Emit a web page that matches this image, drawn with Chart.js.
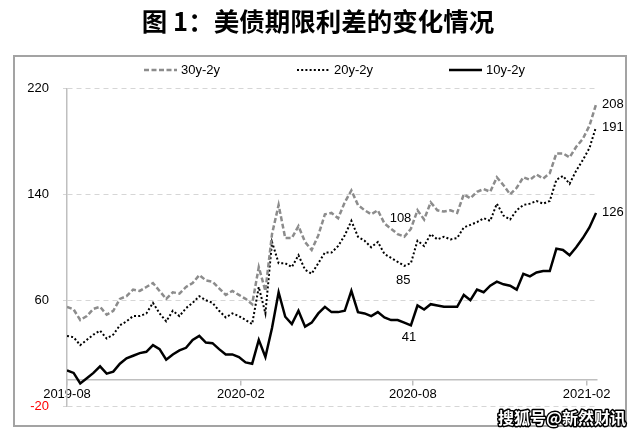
<!DOCTYPE html>
<html><head><meta charset="utf-8">
<script src="https://cdn.jsdelivr.net/npm/chart.js@4.4.0/dist/chart.umd.min.js"></script>
<style>html,body{margin:0;padding:0;background:#fff;}canvas{display:block;}</style>
</head><body>
<canvas id="c" width="640" height="436"></canvas>
<script>
// ---- data (weekly samples) ----
const dates = [
 '2019-08-01','2019-08-08','2019-08-15','2019-08-22','2019-08-29',
 '2019-09-05','2019-09-12','2019-09-19','2019-09-26',
 '2019-10-03','2019-10-10','2019-10-17','2019-10-24','2019-10-31',
 '2019-11-07','2019-11-14','2019-11-21','2019-11-28',
 '2019-12-05','2019-12-12','2019-12-19','2019-12-26',
 '2020-01-02','2020-01-09','2020-01-16','2020-01-23','2020-01-30',
 '2020-02-06','2020-02-13','2020-02-20','2020-02-27',
 '2020-03-05','2020-03-12','2020-03-19','2020-03-26',
 '2020-04-02','2020-04-09','2020-04-16','2020-04-23','2020-04-30',
 '2020-05-07','2020-05-14','2020-05-21','2020-05-28',
 '2020-06-04','2020-06-11','2020-06-18','2020-06-25',
 '2020-07-02','2020-07-09','2020-07-16','2020-07-23','2020-07-30',
 '2020-08-06','2020-08-13','2020-08-20','2020-08-27',
 '2020-09-03','2020-09-10','2020-09-17','2020-09-24',
 '2020-10-01','2020-10-08','2020-10-15','2020-10-22','2020-10-29',
 '2020-11-05','2020-11-12','2020-11-19','2020-11-26',
 '2020-12-03','2020-12-10','2020-12-17','2020-12-24','2020-12-31',
 '2021-01-07','2021-01-14','2021-01-21','2021-01-28',
 '2021-02-04','2021-02-11'
];
const spread30y2y = [55,53,45,48,53.5,55,49,52,61,63,68,67,70,73,67,61,66,65,70,73,79,75,74,69,64,67,64,61,57,85,67,110,132,107,107,116,104,98,109,125,126,122,134,143,132,128,125,128,118,114,110,108,114,128,121,134,128,127,128,126,140,137,142,144,142,153,147,140,145,153,151,155,152,156,171,171,168,176,182,192,208];
const spread20y2y = [33,32,26,30,34,37,31,34,41,44,48,48,50,58,50,44,52,48,54,58,63,60,58,52,47,50,48,45,42,70,50,104,88,88,85,94,83,80,88,96,96,101,109,120,108,105,100,104,95,92,89,86,88,105,101,110,106,108,106,107,115,117,119,122,120,133,124,121,128,132,133,135,133,135,151,154,148,158,166,175,191];
const spread10y2y = [7,5,-3,1,5,10,4.5,6,12,16,18,20,21,26,23,15,19,22,24,30,33,28,27.5,23,19,19,17,13,12,30,17,39,66,47.5,42,52,40,43,50,55,51,51,52,67,51,50,48,51,47,45,45,43,41,56,53,57,56,55,55,55,64,60,68,66,71,74,72,71,68,80,78,81,82,82,99,98,94,100,107,115,126];
const seriesNames = ['30y-2y','20y-2y','10y-2y'];
const xTickDates = ['2019-08-01','2020-02-01','2020-08-01','2021-02-01'];
const xTickLabels = ['2019-08','2020-02','2020-08','2021-02'];
const yTickValues = [-20,60,140,220];
const noteDates = ['2021-02-11','2021-02-11','2021-02-11','2020-07-19','2020-07-22','2020-07-28'];
const noteValues = [208,191,126,108,85,41];
const noteTexts = ['208','191','126','108','85','41'];
const titleText = '图 1：美债期限利差的变化情况';
const watermarkText = '搜狐号@新然财讯';

// ---- helpers ----
const T0 = Date.parse('2019-08-01');
const dayOf = s => Math.round((Date.parse(s) - T0) / 864e5);
const toPts = vals => dates.map((d, i) => ({x: dayOf(d), y: vals[i]}));
const latin = '"Liberation Sans", Arial, sans-serif';

const frame = {
  id: 'frame',
  afterLayout(chart) {
    // centre the title on the whole picture, not only on the padded layout box
    if (chart.titleBlock) { chart.titleBlock.left = 0; chart.titleBlock.right = 636; chart.titleBlock.width = 636; }
  },
  beforeDraw(chart) {
    const c = chart.ctx;
    c.save();
    c.fillStyle = '#fff';
    c.fillRect(0, 0, chart.width, chart.height);
    c.strokeStyle = '#a3a3a3';
    c.lineWidth = 2;
    c.strokeRect(14, 56, 612, 370);
    c.restore();
  }
};

const legendLines = {
  id: 'legendLines',
  afterDraw(chart) {
    const c = chart.ctx;
    const xs = [144, 297, 449], y = 70;
    chart.data.datasets.forEach((ds, i) => {
      c.save();
      c.strokeStyle = ds.borderColor;
      c.lineWidth = ds.borderWidth;
      c.setLineDash(ds.borderDash || []);
      c.beginPath();
      c.moveTo(xs[i], y);
      c.lineTo(xs[i] + 33, y);
      c.stroke();
      c.setLineDash([]);
      c.fillStyle = '#000';
      c.font = '13px ' + latin;
      c.textBaseline = 'middle';
      c.textAlign = 'left';
      c.fillText(ds.label, xs[i] + 37, y);
      c.restore();
    });
  }
};

const notes = {
  id: 'notes',
  afterDraw(chart) {
    const c = chart.ctx, xs = chart.scales.x, ys = chart.scales.y;
    const place = [[6,0,'left'],[6,0,'left'],[6,0,'left'],[0,-18,'center'],[0,13,'center'],[0,12,'center']];
    c.save();
    c.fillStyle = '#000';
    c.font = '13px ' + latin;
    c.textBaseline = 'middle';
    noteTexts.forEach((t, i) => {
      const px = xs.getPixelForValue(dayOf(noteDates[i]));
      const py = ys.getPixelForValue(noteValues[i]);
      c.textAlign = place[i][2];
      c.fillText(t, px + place[i][0], py + place[i][1]);
    });
    // watermark
    c.font = 'bold 16px "Noto Sans CJK SC", sans-serif';
    c.textAlign = 'right';
    c.textBaseline = 'middle';
    c.lineWidth = 3;
    c.strokeStyle = '#000';
    c.lineJoin = 'round';
    c.strokeText(watermarkText, 626, 418);
    c.fillStyle = '#fff';
    c.fillText(watermarkText, 626, 418);
    c.restore();
  }
};

new Chart(document.getElementById('c'), {
  type: 'line',
  data: {
    datasets: [
      {label: seriesNames[0], data: toPts(spread30y2y), borderColor: '#8c8c8c', borderWidth: 2.5, borderDash: [5, 2.5], pointRadius: 0, tension: 0, fill: false},
      {label: seriesNames[1], data: toPts(spread20y2y), borderColor: '#000', borderWidth: 2, borderDash: [2, 2.2], pointRadius: 0, tension: 0, fill: false},
      {label: seriesNames[2], data: toPts(spread10y2y), borderColor: '#000', borderWidth: 2.5, pointRadius: 0, tension: 0, fill: false}
    ]
  },
  options: {
    responsive: false,
    animation: false,
    events: [],
    layout: {padding: {left: 0, right: 43, top: 0, bottom: 30}},
    plugins: {
      legend: {display: false},
      tooltip: {enabled: false},
      title: {
        display: true, text: titleText, color: '#000',
        font: {family: '"Noto Sans CJK SC", sans-serif', size: 25.5, weight: 'bold'},
        padding: {top: 6, bottom: 52}
      }
    },
    scales: {
      x: {
        type: 'linear', position: {y: 0}, min: 0, max: 561,
        afterBuildTicks: s => { s.ticks = xTickDates.map(d => ({value: dayOf(d)})); },
        ticks: {
          autoSkip: false, maxRotation: 0, color: '#000', padding: 2,
          font: {family: latin, size: 13},
          callback: v => { const i = xTickDates.findIndex(d => dayOf(d) === v); return i >= 0 ? xTickLabels[i] : ''; }
        },
        grid: {drawOnChartArea: false, drawTicks: true, tickLength: 5, color: '#bfbfbf', lineWidth: 1.5},
        border: {display: true, color: '#bfbfbf', width: 1.5}
      },
      y: {
        min: -20, max: 220,
        afterBuildTicks: s => { s.ticks = yTickValues.map(v => ({value: v})); },
        afterFit: s => { s.width = 67; },
        ticks: {
          padding: 14, font: {family: latin, size: 13},
          color: c => (c.tick && c.tick.value < 0) ? '#ff0000' : '#000'
        },
        grid: {color: '#d6d6d6', lineWidth: 1, tickLength: 4, tickColor: '#d6d6d6'},
        border: {display: true, color: '#bfbfbf', width: 1.5, dash: [5, 4]}
      }
    }
  },
  plugins: [frame, legendLines, notes]
});
</script>
</body></html>
